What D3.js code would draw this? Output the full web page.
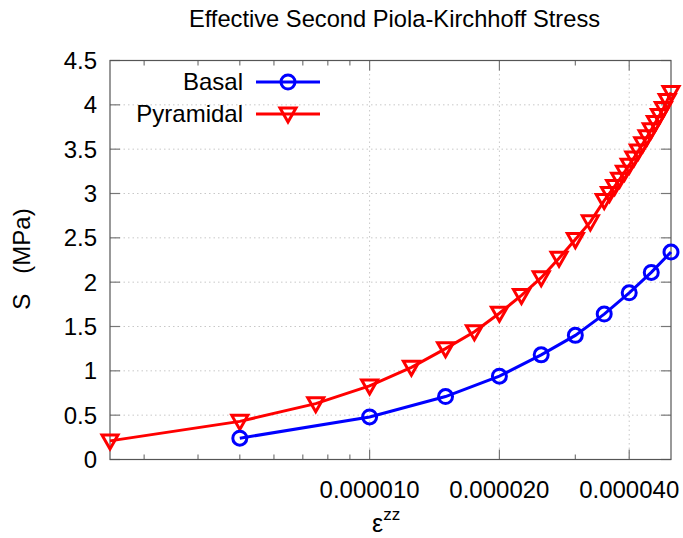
<!DOCTYPE html>
<html><head><meta charset="utf-8">
<script src="https://cdn.jsdelivr.net/npm/d3@7"></script>
<style>
body{margin:0;background:#fff;}
text{font-family:"Liberation Sans",Arial,sans-serif;fill:#000;}
</style></head>
<body><svg id="c" width="683" height="538"></svg>
<script>
// ---- data ----
const basalStrain = [5e-6,10e-6,15e-6,20e-6,25e-6,30e-6,35e-6,40e-6,45e-6,50e-6];
const basalStress = [0.24,0.48,0.71,0.94,1.18,1.40,1.64,1.88,2.11,2.34];
const pyrStrain = [2.5e-6,5e-6,7.5e-6,10e-6,12.5e-6,15e-6,17.5e-6,20e-6,22.5e-6,25e-6,27.5e-6,30e-6,32.5e-6,
  35e-6,36e-6,37e-6,38e-6,39e-6,40e-6,41e-6,42e-6,43e-6,44e-6,45e-6,46e-6,47e-6,48e-6,49e-6,50e-6];
const pyrStress = [0.21,0.43,0.63,0.83,1.04,1.25,1.44,1.65,1.85,2.05,2.27,2.48,2.68,
  2.92,3.00,3.08,3.16,3.24,3.32,3.40,3.48,3.56,3.64,3.72,3.80,3.88,3.96,4.05,4.14];
const xMajorTicks = [1e-5,2e-5,4e-5];
const xMajorLabels = ["0.000010","0.000020","0.000040"];
const xMinorTicks = [3e-6,4e-6,5e-6,6e-6,7e-6,8e-6,9e-6,3e-5];
const yTicks = [0,0.5,1,1.5,2,2.5,3,3.5,4,4.5];
const seriesNames = ["Basal","Pyramidal"];
const seriesColors = ["#0000ff","#ff0000"];

const svg = d3.select("#c");
const L=110,R=671,T=60.5,B=459.5;
const x = d3.scaleLog().domain([2.5e-6,5e-5]).range([L,R]);
const y = d3.scaleLinear().domain([0,4.5]).range([B,T]);

// grid
const grid = svg.append("g").attr("stroke","#c8c8c8").attr("stroke-width",1).attr("stroke-dasharray","1.5,3");
grid.selectAll(".gx").data(xMajorTicks).join("line")
  .attr("x1",d=>x(d)).attr("x2",d=>x(d)).attr("y1",T).attr("y2",B);
grid.selectAll(".gy").data(yTicks.slice(1,-1)).join("line")
  .attr("y1",d=>y(d)).attr("y2",d=>y(d)).attr("x1",L).attr("x2",R);

// ticks
const tk = svg.append("g").attr("stroke","#777").attr("stroke-width",1.2);
xMajorTicks.forEach(d=>{
  tk.append("line").attr("x1",x(d)).attr("x2",x(d)).attr("y1",B).attr("y2",B-10);
  tk.append("line").attr("x1",x(d)).attr("x2",x(d)).attr("y1",T).attr("y2",T+10);
});
xMinorTicks.forEach(d=>{
  tk.append("line").attr("x1",x(d)).attr("x2",x(d)).attr("y1",B).attr("y2",B-5);
  tk.append("line").attr("x1",x(d)).attr("x2",x(d)).attr("y1",T).attr("y2",T+5);
});
yTicks.forEach(d=>{
  tk.append("line").attr("x1",L).attr("x2",L+10).attr("y1",y(d)).attr("y2",y(d));
  tk.append("line").attr("x1",R).attr("x2",R-10).attr("y1",y(d)).attr("y2",y(d));
});
// border
svg.append("rect").attr("x",L).attr("y",T).attr("width",R-L).attr("height",B-T)
  .attr("fill","none").attr("stroke","#555").attr("stroke-width",1.2);

// tick labels
svg.append("g").selectAll("text").data(xMajorTicks).join("text")
  .attr("x",d=>x(d)).attr("y",B+38).attr("text-anchor","middle").attr("font-size",24)
  .text((d,i)=>xMajorLabels[i]);
svg.append("g").selectAll("text").data(yTicks).join("text")
  .attr("x",L-13).attr("y",d=>y(d)+8.5).attr("text-anchor","end").attr("font-size",24)
  .text(d=>d3.format("~g")(d));

// title and axis labels
svg.append("text").attr("x",394.5).attr("y",27).attr("text-anchor","middle").attr("font-size",23.7)
  .text("Effective Second Piola-Kirchhoff Stress");
svg.append("text").attr("transform","translate(30,259) rotate(-90)").attr("text-anchor","middle")
  .attr("font-size",24).attr("xml:space","preserve").text("S   (MPa)");
const xl = svg.append("text").attr("x",372).attr("y",532).attr("font-size",25);
xl.append("tspan").text("ε");
xl.append("tspan").attr("dy",-12).attr("font-size",17).text("zz");

// lines
const line = d3.line().x(d=>x(d[0])).y(d=>y(d[1]));
const basal = basalStrain.map((d,i)=>[d,basalStress[i]]);
const pyr = pyrStrain.map((d,i)=>[d,pyrStress[i]]);
const tri = "M-8,-6L8,-6L0,8Z";

svg.append("path").datum(pyr).attr("d",line).attr("fill","none").attr("stroke",seriesColors[1]).attr("stroke-width",3);
svg.append("g").selectAll("path").data(pyr).join("path")
  .attr("transform",d=>`translate(${x(d[0])},${y(d[1])})`).attr("d",tri)
  .attr("fill","none").attr("stroke",seriesColors[1]).attr("stroke-width",3);
svg.append("path").datum(basal).attr("d",line).attr("fill","none").attr("stroke",seriesColors[0]).attr("stroke-width",3);
svg.append("g").selectAll("circle").data(basal).join("circle")
  .attr("cx",d=>x(d[0])).attr("cy",d=>y(d[1])).attr("r",7)
  .attr("fill","none").attr("stroke",seriesColors[0]).attr("stroke-width",3);

// legend
const lg = svg.append("g");
seriesNames.forEach((n,i)=>{
  const yy = 82 + i*32;
  lg.append("text").attr("x",243).attr("y",yy+8).attr("text-anchor","end").attr("font-size",24).text(n);
  lg.append("line").attr("x1",256).attr("x2",320).attr("y1",yy).attr("y2",yy)
    .attr("stroke",seriesColors[i]).attr("stroke-width",3);
  if(i===0) lg.append("circle").attr("cx",288).attr("cy",yy).attr("r",7).attr("fill","none")
    .attr("stroke",seriesColors[i]).attr("stroke-width",3);
  else lg.append("path").attr("transform",`translate(288,${yy})`).attr("d",tri).attr("fill","none")
    .attr("stroke",seriesColors[i]).attr("stroke-width",3);
});
</script></body></html>
